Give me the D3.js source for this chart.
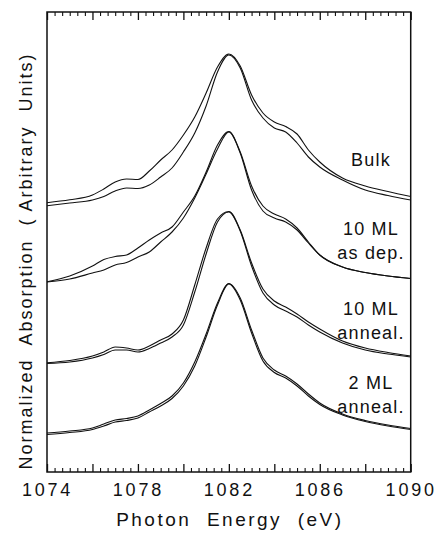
<!DOCTYPE html>
<html>
<head>
<meta charset="utf-8">
<script src="https://cdn.jsdelivr.net/npm/d3@7"></script>
<style>
  html, body { margin: 0; padding: 0; background: #fff; }
  svg { display: block; }
  text { font-family: "Liberation Sans", Arial, Helvetica, sans-serif; fill: #111; }
</style>
</head>
<body>
<svg id="chart" width="439" height="535"></svg>
<script>
// ---------------- data ----------------
const energy = [1074, 1075, 1076, 1076.5, 1077, 1077.5, 1078, 1078.5, 1079, 1079.5, 1080, 1080.5, 1081, 1081.5, 1082, 1082.5, 1083, 1083.5, 1084, 1084.5, 1085, 1085.5, 1086, 1087, 1088, 1089, 1090];

const bulkA = [26.93, 27.22, 27.7, 28.3, 29.0, 29.3, 29.25, 30.1, 31.2, 32.2, 33.7, 35.5, 37.9, 40.5, 41.8, 40.6, 37.7, 35.9, 35.0, 34.55, 33.8, 32.2, 31.0, 29.4, 28.6, 28.05, 27.55];
const bulkB = [26.63, 26.9, 27.2, 27.55, 28.1, 28.4, 28.35, 28.7, 29.5, 30.4, 32.0, 33.9, 36.6, 40.0, 41.7, 40.4, 37.2, 35.4, 34.4, 34.0, 32.9, 31.5, 30.5, 29.2, 28.2, 27.65, 27.2];
const ml10depA = [19.03, 19.6, 20.6, 21.25, 21.55, 21.7, 22.4, 23.2, 23.9, 24.5, 26.0, 27.6, 30.0, 32.7, 34.05, 32.0, 28.6, 26.6, 25.8, 25.3, 24.4, 23.0, 21.7, 20.5, 19.95, 19.6, 19.35];
const ml10depB = [19.0, 19.3, 19.9, 20.2, 20.7, 20.95, 21.5, 22.0, 23.0, 24.0, 25.4, 27.4, 29.8, 32.3, 34.0, 31.9, 28.2, 26.1, 25.4, 25.0, 24.2, 22.9, 21.7, 20.5, 19.95, 19.6, 19.35];
const ml10annA = [10.93, 11.15, 11.6, 12.0, 12.5, 12.4, 12.2, 12.6, 13.2, 13.8, 15.2, 18.7, 22.4, 25.3, 26.05, 24.2, 20.9, 18.3, 17.1, 16.5, 15.8, 15.0, 14.3, 13.1, 12.4, 11.95, 11.6];
const ml10annB = [10.85, 11.0, 11.4, 11.75, 12.2, 12.2, 12.0, 12.35, 12.9, 13.5, 14.7, 18.0, 21.8, 25.0, 26.0, 24.1, 20.6, 17.9, 16.7, 16.1, 15.5, 14.7, 14.0, 12.9, 12.2, 11.8, 11.5];
const ml2annA = [3.9, 4.1, 4.4, 4.8, 5.2, 5.35, 5.6, 6.2, 6.85, 7.6, 8.9, 11.0, 13.8, 16.9, 18.85, 17.4, 14.2, 11.4, 10.2, 9.6, 8.8, 7.8, 6.9, 5.8, 5.15, 4.7, 4.35];
const ml2annB = [3.75, 3.95, 4.25, 4.6, 5.0, 5.15, 5.4, 6.0, 6.6, 7.35, 8.6, 10.6, 13.5, 16.7, 18.8, 17.2, 13.9, 11.1, 9.95, 9.4, 8.6, 7.6, 6.75, 5.7, 5.05, 4.6, 4.25];

const seriesList = [bulkA, bulkB, ml10depA, ml10depB, ml10annA, ml10annB, ml2annA, ml2annB];

const curveLabels = [
  { lines: ["Bulk"], value: 30.6 },
  { lines: ["10 ML", "as dep."], value: 23.7 },
  { lines: ["10 ML", "anneal."], value: 15.7 },
  { lines: ["2 ML", "anneal."], value: 8.3 }
];

const xMajorTicks = [1074, 1076, 1078, 1080, 1082, 1084, 1086, 1088, 1090];
const xTickLabels = [1074, 1078, 1082, 1086, 1090];
const xDomain = [1074, 1090];
const yDomain = [0, 46];
const xTitle = "Photon  Energy  (eV)";
const yTitle = "Normalized  Absorption  ( Arbitrary  Units)";

// ---------------- layout ----------------
(function draw() {
const svg = d3.select("#chart");
const mLeft = 47, mRight = 410.7, mTop = 12, mBottom = 472;

const x = d3.scaleLinear().domain(xDomain).range([mLeft, mRight]);
const y = d3.scaleLinear().domain(yDomain).range([mBottom, mTop]);

const xMinorTicks = d3.range(0, 49).map(i => xDomain[0] + i / 3)
  .filter(v => !xMajorTicks.some(m => Math.abs(m - v) < 1e-6));

// minor ticks
svg.append("g").attr("transform", `translate(0,${mBottom})`)
  .call(d3.axisBottom(x).tickValues(xMinorTicks).tickSize(-4).tickFormat(""))
  .call(g => g.select(".domain").remove())
  .selectAll("line").attr("stroke", "#111").attr("stroke-width", 1.1);
svg.append("g").attr("transform", `translate(0,${mTop})`)
  .call(d3.axisTop(x).tickValues(xMinorTicks).tickSize(-4).tickFormat(""))
  .call(g => g.select(".domain").remove())
  .selectAll("line").attr("stroke", "#111").attr("stroke-width", 1.1);

// major ticks
const labelSet = new Set(xTickLabels);
const gx = svg.append("g").attr("transform", `translate(0,${mBottom})`)
  .call(d3.axisBottom(x).tickValues(xMajorTicks).tickSize(-8).tickPadding(11)
    .tickFormat(d => labelSet.has(d) ? String(d) : ""));
gx.select(".domain").remove();
gx.selectAll("line").attr("stroke", "#111").attr("stroke-width", 1.3);
gx.selectAll("text").attr("font-size", 18).attr("letter-spacing", "2.8px")
  .attr("font-family", "'Liberation Sans', Arial, sans-serif").attr("fill", "#111");

const gt = svg.append("g").attr("transform", `translate(0,${mTop})`)
  .call(d3.axisTop(x).tickValues(xMajorTicks).tickSize(-8).tickFormat(""));
gt.select(".domain").remove();
gt.selectAll("line").attr("stroke", "#111").attr("stroke-width", 1.3);

// frame
svg.append("rect")
  .attr("x", mLeft).attr("y", mTop)
  .attr("width", mRight - mLeft).attr("height", mBottom - mTop)
  .attr("fill", "none").attr("stroke", "#111").attr("stroke-width", 1.5);

// curves
const line = d3.line()
  .x((d, i) => x(energy[i]))
  .y(d => y(d))
  .curve(d3.curveMonotoneX);

svg.append("g").selectAll("path")
  .data(seriesList)
  .join("path")
  .attr("d", d => line(d))
  .attr("fill", "none")
  .attr("stroke", "#111")
  .attr("stroke-width", 1.1);

// curve labels
const lblX = 371;
curveLabels.forEach(l => {
  const t = svg.append("text")
    .attr("x", lblX)
    .attr("y", y(l.value))
    .attr("text-anchor", "middle")
    .attr("font-size", 18)
    .attr("letter-spacing", "1.2px");
  l.lines.forEach((s, i) => {
    t.append("tspan").attr("x", lblX).attr("dy", i === 0 ? 0 : 24).text(s);
  });
});

// axis titles
svg.append("text")
  .attr("x", (mLeft + mRight) / 2 + 1)
  .attr("y", 526)
  .attr("text-anchor", "middle")
  .attr("font-size", 19)
  .attr("letter-spacing", "2.5px")
  .style("white-space", "pre")
  .text(xTitle);

svg.append("text")
  .attr("transform", `translate(31.5,${(mTop + mBottom) / 2 + 19}) rotate(-90)`)
  .attr("text-anchor", "middle")
  .attr("font-size", 18)
  .attr("letter-spacing", "2.0px")
  .style("white-space", "pre")
  .text(yTitle);
})();
</script>
</body>
</html>
